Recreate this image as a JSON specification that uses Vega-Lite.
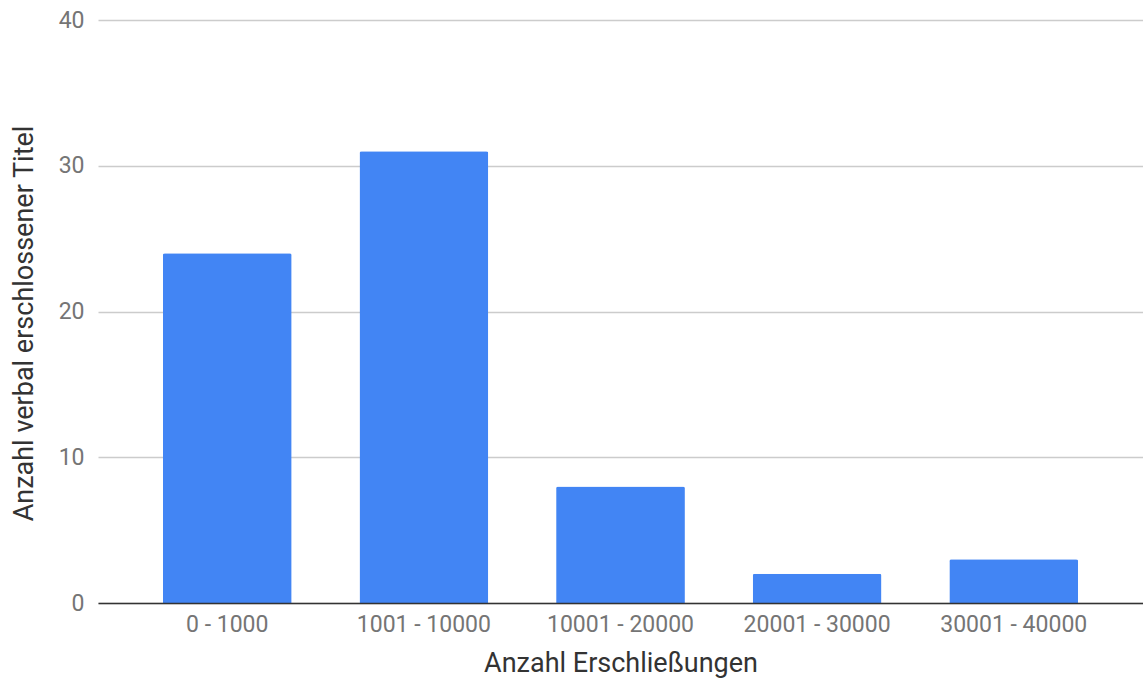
{
  "$schema": "https://vega.github.io/schema/vega-lite/v6.json",
  "autosize": "none",
  "width": 1045,
  "height": 583,
  "padding": {"left": 98, "top": 20, "right": 0, "bottom": 81},
  "background": "white",
  "config": {
    "font": "Roboto",
    "view": {"stroke": null}
  },
  "data": {
    "values": [
      {"Bereich": "0 - 1000", "Anzahl": 24},
      {"Bereich": "1001 - 10000", "Anzahl": 31},
      {"Bereich": "10001 - 20000", "Anzahl": 8},
      {"Bereich": "20001 - 30000", "Anzahl": 2},
      {"Bereich": "30001 - 40000", "Anzahl": 3}
    ]
  },
  "mark": {"type": "bar", "color": "#4285F4", "cornerRadiusTopLeft": 2, "cornerRadiusTopRight": 2},
  "encoding": {
    "x": {
      "field": "Bereich",
      "type": "nominal",
      "sort": null,
      "scale": {"paddingInner": 0.345, "paddingOuter": 0.33},
      "axis": {
        "title": "Anzahl Erschließungen",
        "titleFont": "Roboto",
        "titleFontSize": 27,
        "titleFontWeight": "normal",
        "titleColor": "#333333",
        "titlePadding": 14,
        "labelAngle": 0,
        "labelFontSize": 23,
        "labelColor": "#757575",
        "labelPadding": 10,
        "ticks": false,
        "domainColor": "#333333",
        "domainWidth": 1.5,
        "zindex": 1
      }
    },
    "y": {
      "field": "Anzahl",
      "type": "quantitative",
      "scale": {"domain": [0, 40]},
      "axis": {
        "title": "Anzahl verbal erschlossener Titel",
        "titleFont": "Roboto",
        "titleFontSize": 27,
        "titleFontWeight": "normal",
        "titleColor": "#333333",
        "titleY": 303,
        "titlePadding": 20,
        "values": [0, 10, 20, 30, 40],
        "labelFontSize": 23,
        "labelColor": "#757575",
        "labelPadding": 14,
        "ticks": false,
        "domain": false,
        "gridColor": "#cccccc",
        "gridWidth": 1.3
      }
    }
  }
}
